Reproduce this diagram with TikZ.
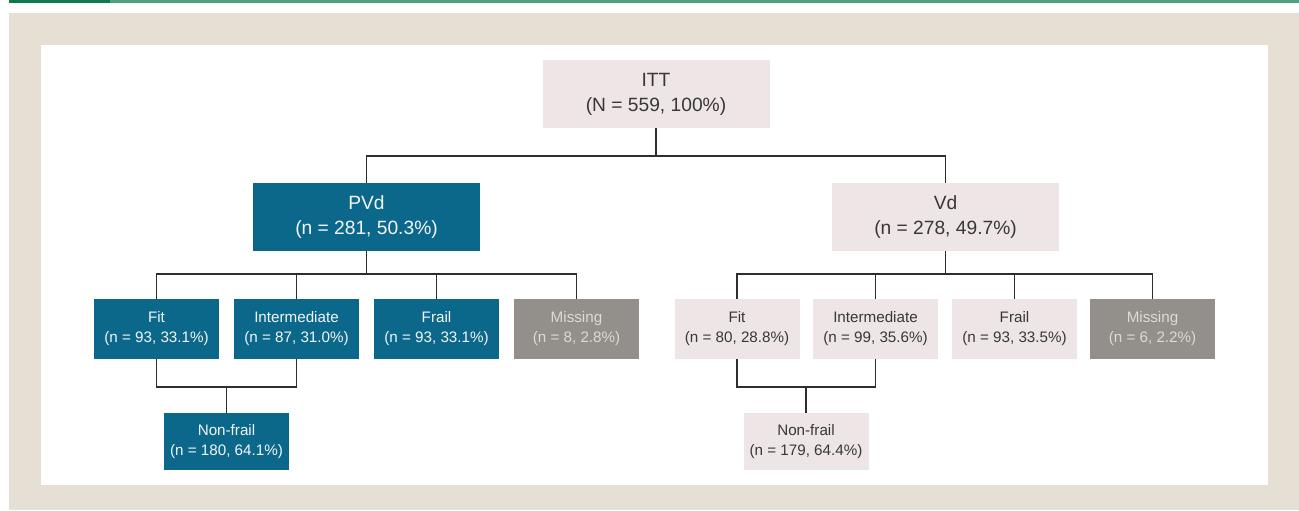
\documentclass[tikz,border=0pt]{standalone}
\usepackage{fontspec}
\setsansfont{Liberation Sans}
\usepackage{tikz}
\usetikzlibrary{positioning}

\definecolor{pvdblue}{HTML}{0C688A}
\definecolor{pvdtext}{HTML}{F2F6F8}
\definecolor{vdpink}{HTML}{EDE5E6}
\definecolor{vdtext}{HTML}{383838}
\definecolor{missgray}{HTML}{938F8B}
\definecolor{misstext}{HTML}{DDD9D5}
\definecolor{linegray}{HTML}{2E2E2E}
\definecolor{panelbeige}{HTML}{E6DFD3}
\definecolor{bardark}{HTML}{0B7A4C}
\definecolor{barlight}{HTML}{4E9E80}

\begin{document}
\begin{tikzpicture}[
    x=0.5pt, y=-0.5pt,
    font=\sffamily,
    bigbox/.style={rectangle, minimum width=113.5pt, minimum height=34pt, inner sep=0pt, align=center, font=\fontsize{9.6}{12.5}\selectfont\sffamily},
    smallbox/.style={rectangle, minimum width=62.5pt, minimum height=30pt, inner sep=0pt, align=center, font=\fontsize{7.6}{10}\selectfont\sffamily},
    pvdfill/.style={fill=pvdblue, text=pvdtext},
    vdfill/.style={fill=vdpink, text=vdtext},
    missfill/.style={fill=missgray, text=misstext},
    link/.style={draw=linegray, line width=0.75pt}
  ]
  \useasboundingbox (0,0) rectangle (1299,510);

  % Frame and top bar
  \fill[bardark] (9,0) rectangle (110,3);
  \fill[barlight] (110,0) rectangle (1299,3);
  \fill[panelbeige] (9,13) rectangle (1299,510);
  \fill[white] (41,45) rectangle (1268,485);

  % Top node
  \node[bigbox, vdfill] (itt) at (656,94) {ITT\\(N = 559, 100\%)};

  % Arms
  \node[bigbox, pvdfill] (pvd) at (366.5,217) {PVd\\(n = 281, 50.3\%)};
  \node[bigbox, vdfill] (vd) at (945.5,217) {Vd\\(n = 278, 49.7\%)};

  % PVd frailty groups
  \node[smallbox, pvdfill] (pfit) at (156.5,329) {Fit\\(n = 93, 33.1\%)};
  \node[smallbox, pvdfill] (pint) at (296.5,329) {Intermediate\\(n = 87, 31.0\%)};
  \node[smallbox, pvdfill] (pfrail) at (436.5,329) {Frail\\(n = 93, 33.1\%)};
  \node[smallbox, missfill] (pmiss) at (576.5,329) {Missing\\(n = 8, 2.8\%)};
  \node[smallbox, pvdfill, minimum height=28.5pt] (pnon) at (226.5,441.5) {Non-frail\\(n = 180, 64.1\%)};

  % Vd frailty groups
  \node[smallbox, vdfill] (vfit) at (737,329) {Fit\\(n = 80, 28.8\%)};
  \node[smallbox, vdfill] (vint) at (875.5,329) {Intermediate\\(n = 99, 35.6\%)};
  \node[smallbox, vdfill] (vfrail) at (1014.5,329) {Frail\\(n = 93, 33.5\%)};
  \node[smallbox, missfill] (vmiss) at (1152.5,329) {Missing\\(n = 6, 2.2\%)};
  \node[smallbox, vdfill, minimum height=28.5pt] (vnon) at (806,441.5) {Non-frail\\(n = 179, 64.4\%)};

  % Bus points
  \coordinate (topbus) at (656,156);
  \coordinate (pbus) at (366.5,274);
  \coordinate (vbus) at (945.5,274);
  \coordinate (pjoin) at (226.5,387);
  \coordinate (vjoin) at (806,387);

  % Connectors - ITT to arms
  \draw[link] (itt.south) -- (topbus);
  \draw[link] (pvd.north) |- (topbus) -| (vd.north);

  % Connectors - PVd
  \draw[link] (pvd.south) -- (pbus);
  \draw[link] (pfit.north) |- (pbus) -| (pmiss.north);
  \draw[link] (pint.north) -- (pint.north |- pbus);
  \draw[link] (pfrail.north) -- (pfrail.north |- pbus);
  \draw[link] (pfit.south) |- (pjoin) -| (pint.south);
  \draw[link] (pjoin) -- (pnon.north);

  % Connectors - Vd
  \draw[link] (vd.south) -- (vbus);
  \draw[link] (vfit.north) |- (vbus) -| (vmiss.north);
  \draw[link] (vint.north) -- (vint.north |- vbus);
  \draw[link] (vfrail.north) -- (vfrail.north |- vbus);
  \draw[link] (vfit.south) |- (vjoin) -| (vint.south);
  \draw[link] (vjoin) -- (vnon.north);

\end{tikzpicture}
\end{document}
